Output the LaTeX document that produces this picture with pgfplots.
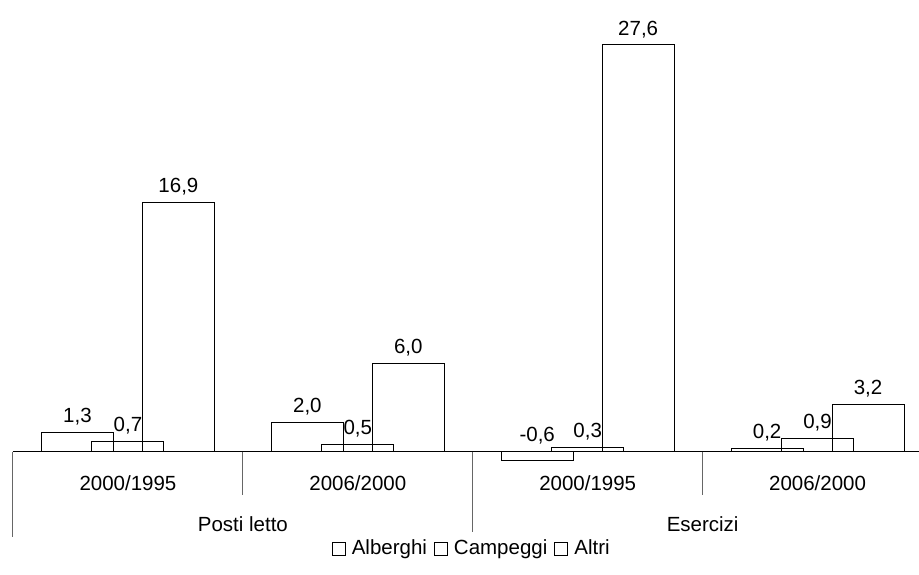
\documentclass[border=0pt]{standalone}
\usepackage{pgfplots}
\pgfplotsset{compat=1.18}
\usepackage{fontspec}
\setmainfont{Liberation Sans}
\newcommand{\chartfont}{\fontsize{10.25}{12}\selectfont}
\begin{document}
\begin{tikzpicture}
\begin{axis}[name=ax, scale only axis, width=453pt, height=287.5pt,
  xmin=-0.5, xmax=3.439, ymin=-8.34, ymax=30.64,
  axis x line=middle, axis y line=none,
  axis line style={-, line width=0.5pt, black},
  hide obscured x ticks=false,
  ytick=\empty,
  xtick={0,1,2,3},
  xticklabels={2000/1995,2006/2000,2000/1995,2006/2000},
  major tick length=0pt,
  xticklabel style={anchor=center, yshift=-15.5pt, font=\chartfont},
  extra x ticks={0.5,2.5},
  extra x tick labels={Posti letto,Esercizi},
  extra x tick style={xticklabel style={yshift=-20.5pt}},
  ybar, bar width=36pt,
  clip=false,
  /pgf/number format/.cd, use comma, fixed, fixed zerofill, precision=1, assume math mode=true, /pgfplots/.cd,
  nodes near coords,
  nodes near coords align={anchor=south},
  visualization depends on=rawy \as \rawy,
  every node near coord/.append style={font=\chartfont, text=black, yshift={\rawy<0 ? 0-7.375*(\rawy) : 0}},
  legend style={draw=none, at={(0.5077,0.0452)}, anchor=center, legend columns=3, font=\chartfont,
    /tikz/every even column/.append style={column sep=1.5pt},
    /tikz/every odd column/.append style={column sep=1pt}},
  legend image code/.code={\draw[line width=0.5pt, black, fill=white] (0pt,-3.25pt) rectangle (6.5pt,3.25pt);},
]
\addplot[draw=black, fill=none, line width=0.5pt, bar shift=-25.25pt] coordinates {(0,1.3) (1,2.0) (2,-0.6) (3,0.2)};
\addplot[draw=black, fill=none, line width=0.5pt, bar shift=0pt] coordinates {(0,0.7) (1,0.5) (2,0.3) (3,0.9)};
\addplot[draw=black, fill=none, line width=0.5pt, bar shift=25.25pt] coordinates {(0,16.9) (1,6.0) (2,27.6) (3,3.2)};
\legend{Alberghi,Campeggi,Altri}
\draw[black!60, line width=0.5pt] (axis cs:-0.5,0) -- (axis cs:-0.5,-5.76);
\draw[black!60, line width=0.5pt] (axis cs:0.5,0) -- (axis cs:0.5,-2.92);
\draw[black!60, line width=0.5pt] (axis cs:1.5,0) -- (axis cs:1.5,-5.76);
\draw[black!60, line width=0.5pt] (axis cs:2.5,0) -- (axis cs:2.5,-2.92);
\end{axis}
\path ([xshift=-6.5pt]ax.south west) rectangle (ax.north east);
\end{tikzpicture}
\end{document}
